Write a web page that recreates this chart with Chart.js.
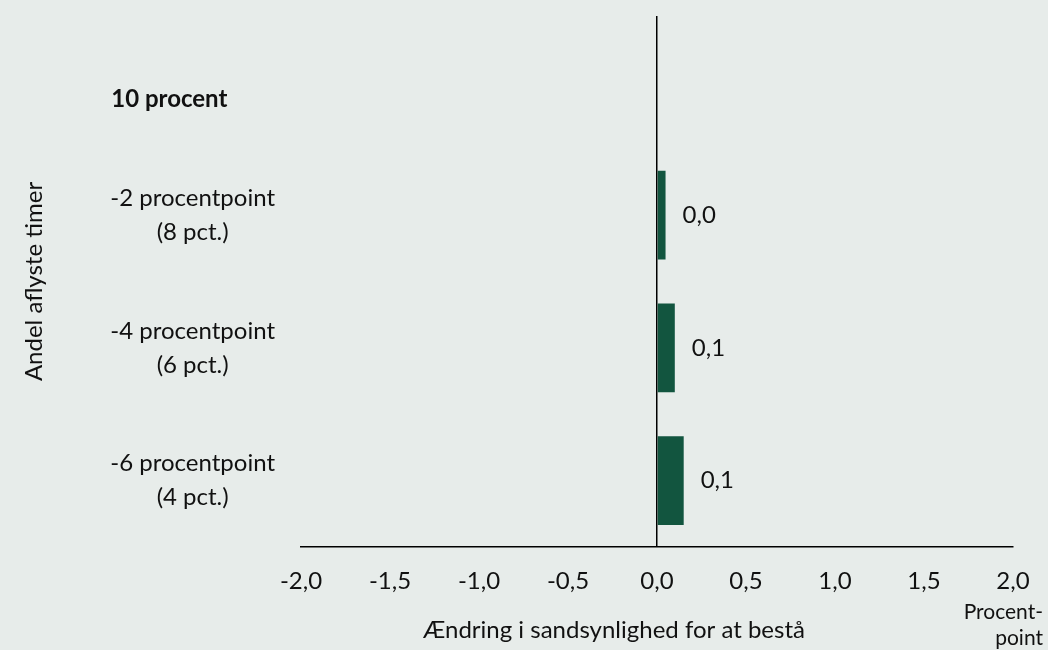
<!DOCTYPE html>
<html>
<head>
<meta charset="utf-8">
<script src="https://cdn.jsdelivr.net/npm/chart.js@4.4.1/dist/chart.umd.min.js"></script>
<style>
  html, body { margin: 0; padding: 0; background: #e7ecea; }
  #wrap { width: 1048px; height: 650px; position: relative; }
</style>
</head>
<body>
<div id="wrap"><canvas id="c" width="1048" height="650"></canvas></div>
<script>
const categories = [
  ["", "10 procent" + "\u00A0".repeat(8)],
  ["-2 procentpoint", "(8 pct.)"],
  ["-4 procentpoint", "(6 pct.)"],
  ["-6 procentpoint", "(4 pct.)"]
];
const values = [null, 0.048, 0.10, 0.15];
const valueLabels = ["", "0,0", "0,1", "0,1"];
const xTicks = [-2.0, -1.5, -1.0, -0.5, 0.0, 0.5, 1.0, 1.5, 2.0];
const xTitle = "Ændring i sandsynlighed for at bestå";
const yTitle = "Andel aflyste timer";
const unitLines = ["Procent-", "point"];

const FONT = "Lato";
const TXT = "#111111";

const labelPlugin = {
  id: "valueLabels",
  afterDatasetsDraw(chart) {
    const ctx = chart.ctx;
    const meta = chart.getDatasetMeta(0);
    ctx.save();
    ctx.font = "24px " + FONT;
    ctx.fillStyle = TXT;
    ctx.textAlign = "left";
    ctx.textBaseline = "middle";
    meta.data.forEach((bar, i) => {
      if (values[i] == null) return;
      ctx.fillText(valueLabels[i], bar.x + 17, bar.y);
    });
    ctx.restore();
  },
  afterDraw(chart) {
    const ctx = chart.ctx;
    ctx.save();
    ctx.font = "21px " + FONT;
    ctx.fillStyle = TXT;
    ctx.textAlign = "right";
    ctx.textBaseline = "middle";
    ctx.fillText(unitLines[0], 1043, 612);
    ctx.fillText(unitLines[1], 1043, 638);
    ctx.restore();
  }
};

new Chart(document.getElementById("c"), {
  type: "bar",
  data: {
    labels: categories,
    datasets: [{
      data: values,
      backgroundColor: "#12553f",
      borderWidth: 0,
      barPercentage: 0.67,
      categoryPercentage: 1.0
    }]
  },
  options: {
    indexAxis: "y",
    responsive: false,
    animation: false,
    devicePixelRatio: 1,
    layout: { padding: { top: 16, right: 35, left: 0, bottom: 0 } },
    plugins: { legend: { display: false }, tooltip: { enabled: false } },
    scales: {
      x: {
        type: "linear",
        min: -2, max: 2,
        afterBuildTicks(scale) { scale.ticks = xTicks.map(v => ({ value: v })); },
        afterFit(scale) { scale.height = 103; scale.paddingLeft = 0; scale.paddingRight = 0; },
        ticks: {
          font: { family: FONT, size: 24 },
          color: TXT,
          padding: 20,
          callback: (v) => Number(v).toFixed(1).replace(".", ",")
        },
        grid: {
          drawTicks: false,
          color: (c) => (c.tick && c.tick.value === 0) ? "#000000" : "rgba(0,0,0,0)",
          lineWidth: 1.5
        },
        border: { display: true, color: "#000000", width: 1.5 },
        title: {
          display: true,
          text: xTitle + "\u00A0".repeat(14),
          font: { family: FONT, size: 24 },
          color: TXT,
          padding: { top: 0, bottom: 5 }
        }
      },
      y: {
        afterFit(scale) { scale.width = 301; scale.paddingTop = 0; scale.paddingBottom = 0; },
        ticks: {
          font: (c) => ({ family: FONT, size: 24, lineHeight: 1.42, weight: c.index === 0 ? "bold" : "normal" }),
          color: TXT,
          padding: 26,
          crossAlign: "center"
        },
        grid: { display: false, drawTicks: false },
        border: { display: false },
        title: {
          display: true,
          text: yTitle,
          font: { family: FONT, size: 24 },
          color: TXT,
          padding: { top: 20, bottom: 0 }
        }
      }
    }
  },
  plugins: [labelPlugin]
});
</script>
</body>
</html>
